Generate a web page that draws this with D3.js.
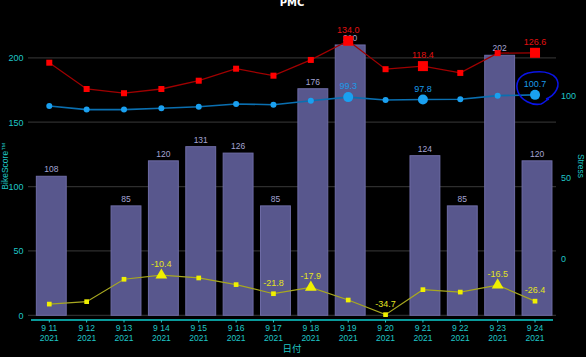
<!DOCTYPE html>
<html><head><meta charset="utf-8">
<script src="https://cdn.jsdelivr.net/npm/d3@7"></script>
<style>html,body{margin:0;padding:0;background:#000;}svg{display:block;}</style>
</head><body><svg id="c" width="586" height="357"></svg>
<script>
const dates = ["9 11","9 12","9 13","9 14","9 15","9 16","9 17","9 18","9 19","9 20","9 21","9 22","9 23","9 24"];
const years = ["2021","2021","2021","2021","2021","2021","2021","2021","2021","2021","2021","2021","2021","2021"];
const bikeScore = [108, null, 85, 120, 131, 126, 85, 176, 210, null, 124, 85, 202, 120];
const atl = [120.5, 104.3, 101.7, 104.3, 109.4, 116.8, 112.5, 122.2, 134.0, 116.5, 118.4, 114.2, 126.4, 126.6];
const ctl = [93.8, 91.6, 91.6, 92.4, 93.4, 95.1, 94.6, 97.1, 99.3, 97.5, 97.8, 98.0, 100.2, 100.7];
const tsb = [-28.2, -26.7, -12.9, -10.4, -12.1, -16.2, -21.8, -17.9, -25.7, -34.7, -19.3, -20.8, -16.5, -26.4];
const atlMarked = [8, 10, 13];
const ctlMarked = [8, 10, 13];
const tsbMarked = [3, 7, 12];
const tsbLabeled = [3, 6, 7, 9, 12, 13];
const leftTicks = [0, 50, 100, 150, 200];
const rightTicks = [0, 50, 100];

const svg = d3.select("#c");
const plotTop = 20, plotBottom = 315.3;
const x = d3.scaleBand().domain(dates).range([30.6, 553.7]).paddingInner(0.2).paddingOuter(0.1);
const yL = d3.scaleLinear().domain([0, 229.4]).range([plotBottom, plotTop]);
const yR = d3.scaleLinear().domain([-35.1, 146.8]).range([plotBottom, plotTop]);
const cx = i => x(dates[i]) + x.bandwidth() / 2;
const barShift = 2;
const teal = "#1fc6c6";
const FONT = "Liberation Sans";

// gridlines
svg.append("g").selectAll("line").data(leftTicks).join("line")
  .attr("x1", 28).attr("x2", 556).attr("y1", d => yL(d)).attr("y2", d => yL(d))
  .attr("stroke", "#2e2e2e").attr("stroke-width", 1.2);

// bars
const bars = bikeScore.map((v, i) => ({v, i})).filter(d => d.v != null);
svg.append("g").selectAll("rect").data(bars).join("rect")
  .attr("x", d => x(dates[d.i]) + barShift).attr("width", x.bandwidth())
  .attr("y", d => yL(d.v)).attr("height", d => yL(0) - yL(d.v))
  .attr("fill", "#58578d").attr("stroke", "#6e6ca6").attr("stroke-width", 1);
svg.append("g").selectAll("text").data(bars).join("text")
  .attr("x", d => cx(d.i) + barShift).attr("y", d => yL(d.v) - 4)
  .attr("text-anchor", "middle").attr("font-family", FONT).attr("font-size", 8.5)
  .attr("fill", "#a4a4d4").text(d => d.v);

// lines
function series(vals, color, width) {
  svg.append("path").datum(vals).attr("fill", "none").attr("stroke", color).attr("stroke-width", width)
    .attr("d", d3.line().x((d, i) => cx(i)).y(d => yR(d)));
}
series(atl, "#a00000", 1.3);
series(ctl, "#0a6fb0", 1.6);
series(tsb, "#a8a820", 1.2);

// ATL markers
svg.append("g").selectAll("rect").data(atl).join("rect")
  .attr("x", (d, i) => cx(i) - (atlMarked.includes(i) ? 5 : 3))
  .attr("y", (d, i) => yR(d) - (atlMarked.includes(i) ? 5 : 3))
  .attr("width", (d, i) => atlMarked.includes(i) ? 10 : 6)
  .attr("height", (d, i) => atlMarked.includes(i) ? 10 : 6)
  .attr("fill", "#ff0000");
// CTL markers
svg.append("g").selectAll("circle").data(ctl).join("circle")
  .attr("cx", (d, i) => cx(i)).attr("cy", d => yR(d))
  .attr("r", (d, i) => ctlMarked.includes(i) ? 5 : 3)
  .attr("fill", "#1aa0f0");
// TSB markers
svg.append("g").selectAll("path").data(tsb).join("path")
  .attr("transform", (d, i) => `translate(${cx(i)},${yR(d)})`)
  .attr("d", (d, i) => tsbMarked.includes(i)
    ? d3.symbol(d3.symbolTriangle, 60)()
    : d3.symbol(d3.symbolSquare, 22)())
  .attr("fill", "#f0f000");

// value labels
function labels(vals, idx, color, dy) {
  svg.append("g").selectAll("text").data(idx).join("text")
    .attr("x", i => cx(i)).attr("y", i => yR(vals[i]) + dy)
    .attr("text-anchor", "middle").attr("font-family", FONT).attr("font-size", 9)
    .attr("fill", color).text(i => vals[i].toFixed(1));
}
labels(atl, atlMarked, "#e01010", -8);
labels(ctl, ctlMarked, "#1a9ae8", -8);
labels(tsb, tsbLabeled, "#e4e420", -8);

// x axis
const xAxis = svg.append("g").attr("transform", "translate(0,320)");
xAxis.append("line").attr("x1", 31).attr("x2", 553).attr("stroke", "#0a9a9a").attr("stroke-width", 1.8);
const xt = xAxis.selectAll("g").data(dates).join("g").attr("transform", d => `translate(${x(d) + x.bandwidth() / 2},0)`);
xt.append("line").attr("y1", 0).attr("y2", 2.5).attr("stroke", teal);
xt.append("text").attr("y", 11).attr("text-anchor", "middle").attr("font-family", FONT).attr("font-size", 8.5).attr("fill", teal).text(d => d);
xt.append("text").attr("y", 21).attr("text-anchor", "middle").attr("font-family", FONT).attr("font-size", 8.5).attr("fill", teal).text((d, i) => years[i]);

// left axis labels
svg.append("g").selectAll("text").data(leftTicks).join("text")
  .attr("x", 23.5).attr("y", d => yL(d) + 3.5).attr("text-anchor", "end")
  .attr("font-family", FONT).attr("font-size", 9).attr("fill", teal).text(d => d);
// right axis labels
svg.append("g").selectAll("text").data(rightTicks).join("text")
  .attr("x", 561).attr("y", d => yR(d) + 3.5).attr("text-anchor", "start")
  .attr("font-family", FONT).attr("font-size", 9).attr("fill", teal).text(d => d);

// axis titles
svg.append("text").attr("transform", "translate(8,166) rotate(-90)").attr("text-anchor", "middle")
  .attr("font-family", FONT).attr("font-size", 8.5).attr("fill", teal).text("BikeScore™");
svg.append("text").attr("transform", "translate(578,166) rotate(90)").attr("text-anchor", "middle")
  .attr("font-family", FONT).attr("font-size", 8.5).attr("fill", teal).text("Stress");
svg.append("text").attr("x", 292).attr("y", 352).attr("text-anchor", "middle")
  .attr("font-family", "Noto Sans CJK JP").attr("font-size", 9.5).attr("fill", teal).text("日付");

// title
svg.append("text").attr("x", 292).attr("y", 5.5).attr("text-anchor", "middle")
  .attr("font-family", "DejaVu Sans").attr("font-weight", "bold").attr("font-size", 10).attr("fill", "#ffffff").text("PMC");

// hand-drawn annotation ellipse
svg.append("path")
  .attr("d", "M546,99 C556,95 561,85 556,78 C550,71 538,71 528,73 C518,76 515,84 518,92 C521,100 532,106 541,104 C544,103 546,100 549,99")
  .attr("fill", "none").attr("stroke", "#0a14e6").attr("stroke-width", 1.6);
</script>
</body></html>
